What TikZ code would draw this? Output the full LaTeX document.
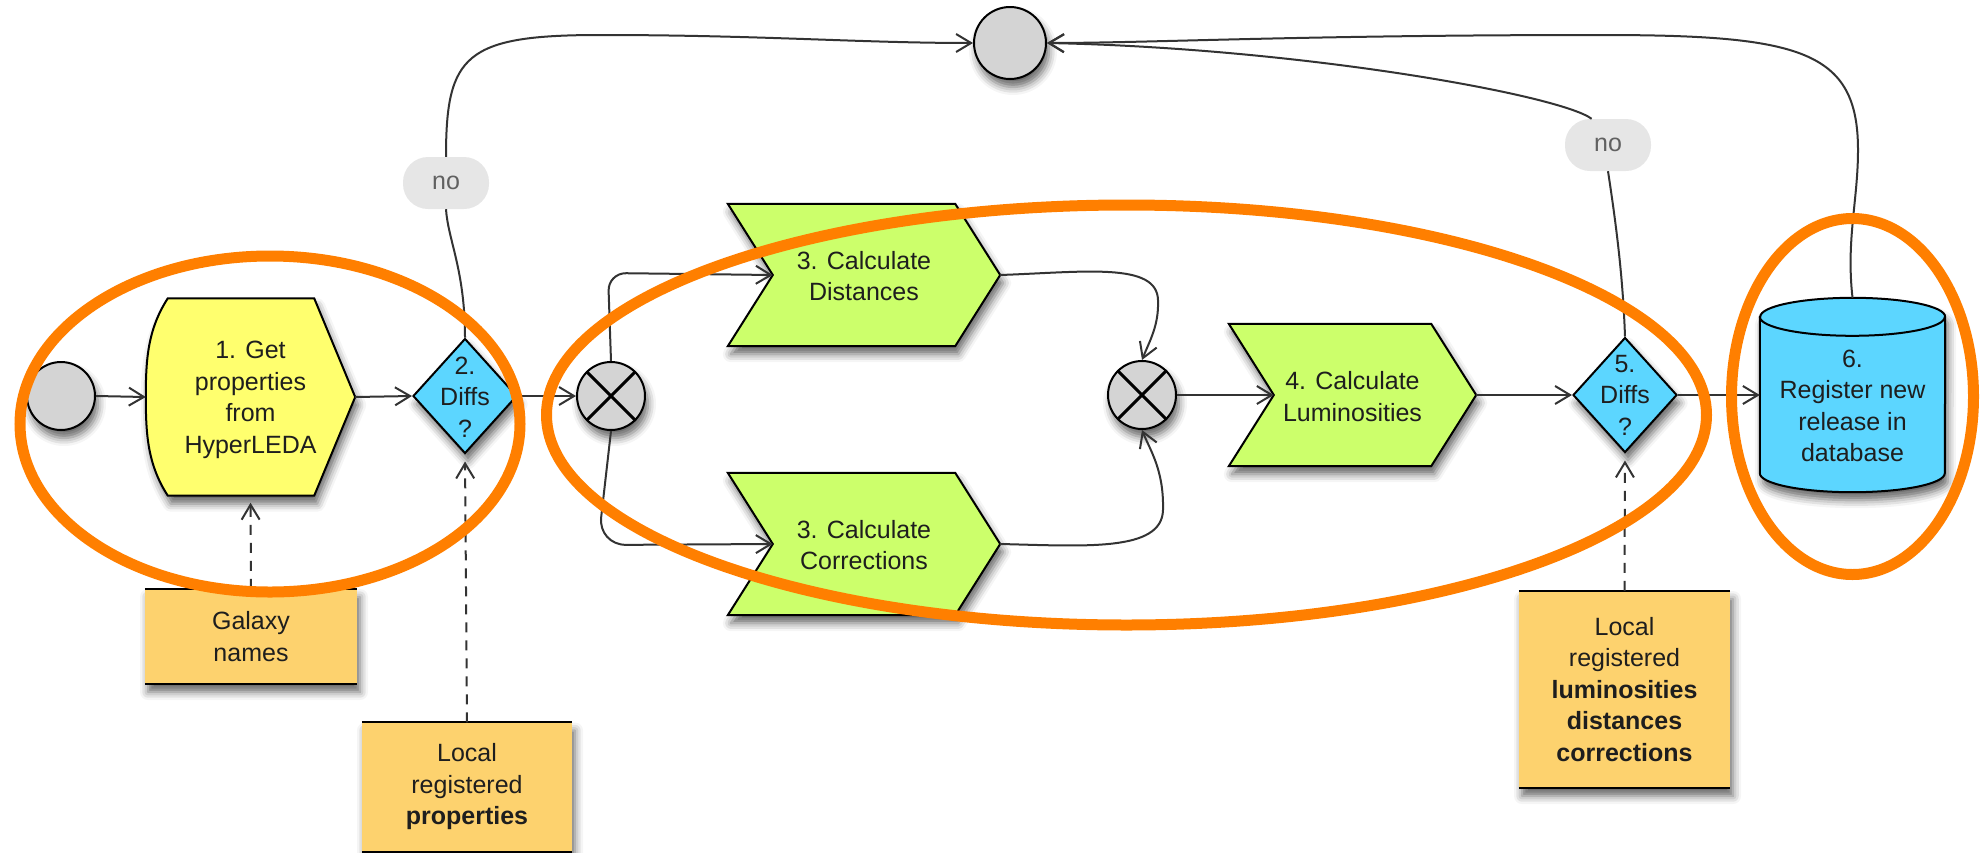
\documentclass[tikz,border=0pt]{standalone}
\usepackage{fontspec}
\setmainfont{Liberation Sans}
\usetikzlibrary{shapes.geometric,arrows.meta,calc,shadows.blur}

\definecolor{procyellow}{HTML}{FFFF6E}
\definecolor{procgreen}{HTML}{CCFF6B}
\definecolor{decblue}{HTML}{5CD6FF}
\definecolor{notefill}{HTML}{FDD26E}
\definecolor{evgray}{HTML}{D4D4D4}
\definecolor{pillgray}{HTML}{E6E6E6}
\definecolor{hilite}{HTML}{FF7F00}
\definecolor{ink}{HTML}{1E1E1E}
\definecolor{wire}{HTML}{333333}

\tikzset{
  softshadow/.style={blur shadow={shadow xshift=3pt, shadow yshift=-8pt,
      shadow blur radius=8pt, shadow opacity=60}},
  txt/.style={font=\fontsize{25}{31.5}\selectfont, text=ink, align=center, inner sep=0pt},
  event/.style={circle, draw=black, line width=2pt, fill=evgray, inner sep=0pt, softshadow},
  holder/.style={rectangle, inner sep=0pt},
  outline/.style={draw=black, line width=2pt, line join=miter, softshadow},
  decision/.style={diamond, draw=black, line width=2pt, fill=decblue,
      minimum width=104pt, minimum height=115pt, inner sep=0pt, softshadow},
  notebox/.style={rectangle, fill=notefill, txt, softshadow},
  pill/.style={rectangle, rounded corners=25pt, fill=pillgray, minimum width=86pt,
      minimum height=52pt, inner sep=0pt, font=\fontsize{25}{30}\selectfont, text=black!62},
  conn/.style={draw=wire, line width=2pt, -{Straight Barb[length=15pt,width=18pt]}},
  plain/.style={draw=wire, line width=2pt},
  ref/.style={conn, dash pattern=on 10pt off 8pt, shorten >=7pt},
  ring/.style={draw=hilite, line width=11pt},
}

% chevron outline around a holder node: notch on its west anchor, point beyond its east side
\newcommand\chevronoutline[2]{%
  \path[outline, fill=#2] ($(#1.north west)+(-45,0)$) -- (#1.north east)
    -- ($(#1.east)+(45,0)$) -- (#1.south east) -- ($(#1.south west)+(-45,0)$)
    -- (#1.west) -- cycle;}

\begin{document}
\begin{tikzpicture}[x=1pt,y=-1pt]
\useasboundingbox (0,0) rectangle (1984,852);

% ---- events
\node[event, minimum size=68pt] (start) at (61,396) {};
\node[event, minimum size=72pt] (top) at (1010,43) {};

% ---- process areas: geometry holders, outlines, then their texts
\node[holder, minimum width=209pt, minimum height=197pt] (g1) at (250.5,397) {};
\node[holder, minimum width=182pt, minimum height=142pt] (dist) at (864,275) {};
\node[holder, minimum width=182pt, minimum height=142pt] (corr) at (864,544) {};
\node[holder, minimum width=157pt, minimum height=142pt] (lum) at (1352.5,395) {};
\coordinate (disttip) at ($(dist.east)+(45,0)$);
\coordinate (corrtip) at ($(corr.east)+(45,0)$);
\coordinate (lumtip) at ($(lum.east)+(45,0)$);

% get properties: curved left side, pointed right side
\path[outline, fill=procyellow]
  ($(g1.north west)+(22,0)$) -- ($(g1.north east)+(-41,0)$) -- (g1.east)
  -- ($(g1.south east)+(-41,0)$) -- ($(g1.south west)+(22,0)$)
  .. controls ($(g1.south west)+(2,-31)$) and ($(g1.west)+(0,38)$) .. (g1.west)
  .. controls ($(g1.west)+(0,-38)$) and ($(g1.north west)+(2,31)$) .. ($(g1.north west)+(22,0)$)
  -- cycle;
\chevronoutline{dist}{procgreen}
\chevronoutline{corr}{procgreen}
\chevronoutline{lum}{procgreen}

\node[txt] (g1t) at (250.5,400) {1. Get\\properties\\from\\HyperLEDA};
\node[txt] (distt) at (864,276) {3. Calculate\\Distances};
\node[txt] (corrt) at (864,545) {3. Calculate\\Corrections};
\node[txt] (lumt) at (1352.5,396.5) {4. Calculate\\Luminosities};

% ---- database cylinder
\node[holder, minimum width=185pt, minimum height=194pt] (db) at (1852.5,395) {};
\path[outline, fill=decblue]
  ($(db.north west)+(0,19)$) -- ($(db.south west)+(0,-19)$)
  arc[start angle=180, end angle=360, x radius=92.5pt, y radius=19pt]
  -- ($(db.north east)+(0,19)$)
  arc[start angle=0, end angle=180, x radius=92.5pt, y radius=19pt] -- cycle;
\draw[line width=2pt] ($(db.north west)+(0,19)$)
  arc[start angle=180, end angle=360, x radius=92.5pt, y radius=19pt];
\node[txt] (dbt) at (1852.5,406) {6.\\Register new\\release in\\database};

% ---- decisions
\node[decision] (dec2) at (465,396) {};
\node[txt] (dec2t) at (465,397) {2.\\Diffs\\?};
\node[decision] (dec5) at (1625,395) {};
\node[txt] (dec5t) at (1625,395) {5.\\Diffs\\?};

% ---- gateways
\node[event, minimum size=68pt] (gw1) at (611,396) {};
\draw[line width=3pt] (gw1.45) -- (gw1.225) (gw1.135) -- (gw1.315);
\node[event, minimum size=68pt] (gw2) at (1142,395) {};
\draw[line width=3pt] (gw2.45) -- (gw2.225) (gw2.135) -- (gw2.315);

% ---- data notes
\node[notebox, minimum width=212pt, minimum height=95pt] (gal) at (251,636.5) {Galaxy\\names};
\node[notebox, minimum width=210pt, minimum height=129pt] (locp) at (467,787)
  {Local\\registered\\\textbf{properties}};
\node[notebox, minimum width=211pt, minimum height=197pt] (locl) at (1624.5,689.5)
  {Local\\registered\\\textbf{luminosities}\\\textbf{distances}\\\textbf{corrections}};
\foreach \n in {gal,locp,locl}
  \draw[line width=2pt] (\n.north west) -- (\n.north east) (\n.south west) -- (\n.south east);

% ---- edge labels
\node[pill] (no1) at (446,183) {no};
\node[pill] (no2) at (1608,145) {no};

% ---- sequence flow
\draw[conn] (start.east) -- (g1.west);
\draw[conn] (g1.east) -- (dec2.west);
\draw[conn] (dec2.east) -- (gw1.west);
\draw[conn, rounded corners=18pt] (gw1.north) -- ($(gw1.north)+(-3,-88)$) -- (dist.west);
\draw[conn, rounded corners=28pt] (gw1.south) -- ($(gw1.south)+(-13,114)$) -- (corr.west);
\draw[conn] (disttip) .. controls (1085,272) and (1157,262) .. (1158,300)
  .. controls (1159,325) and (1150,340) .. (gw2.north);
\draw[conn] (corrtip) .. controls (1085,546) and (1162,552) .. (1163,510)
  .. controls (1164,470) and (1150,450) .. (gw2.south);
\draw[conn] (gw2.east) -- (lum.west);
\draw[conn] (lumtip) -- (dec5.west);
\draw[conn] (dec5.east) -- (db.west);

% "no" branches and the release loop back to the top event
\draw[plain] (dec2.north) .. controls (465,270) and (448,240) .. (no1.south);
\draw[conn] (no1.north) .. controls (446,55) and (465,35) .. (600,35)
  .. controls (760,35) and (860,43) .. (top.west);
\draw[plain] (dec5.north) .. controls (1623,280) and (1617,230) .. (no2.south);
\draw[conn] (no2.122) .. controls (1560,95) and (1300,48) .. (top.east);
\draw[conn] (db.north) .. controls (1846,240) and (1858,200) .. (1858,150)
  .. controls (1858,50) and (1800,35) .. (1600,35)
  .. controls (1300,35) and (1150,43) .. (top.east);

% ---- data associations
\draw[ref] (gal.north) -- (g1.south);
\draw[ref] (locp.north) -- (dec2.south);
\draw[ref] (locl.north) -- (dec5.south);

% ---- highlight rings
\draw[ring] (270,424) ellipse [x radius=250pt, y radius=168pt];
\draw[ring] (1126.5,415) ellipse [x radius=580pt, y radius=210pt];
\draw[ring] (1852.5,396.5) ellipse [x radius=121pt, y radius=178pt];
\end{tikzpicture}
\end{document}
